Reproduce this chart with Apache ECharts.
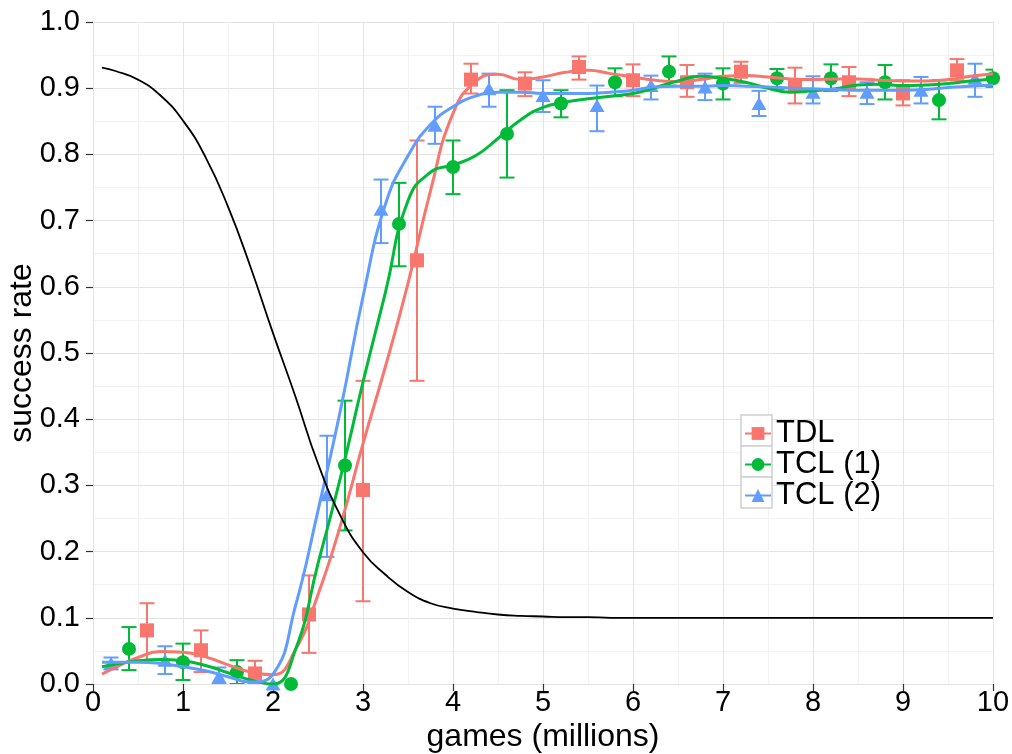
<!DOCTYPE html>
<html>
<head>
<meta charset="utf-8">
<title>success rate vs games</title>
<script src="https://cdn.jsdelivr.net/npm/echarts@6/dist/echarts.min.js"></script>
<style>
  html, body { margin: 0; padding: 0; background: #fff; }
  #chart { width: 1012px; height: 754px; }
</style>
</head>
<body>
<div id="chart"></div>
<script>
// ---- series names ----
const seriesNames = ['TDL', 'TCL (1)', 'TCL (2)'];
const seriesColors = ['#F8766D', '#00BA38', '#619CFF'];

// ---- TDL: measured points with error bars ----
const tdlX  = [0.6, 1.2, 1.8, 2.4, 3.0, 3.6, 4.2, 4.8, 5.4, 6.0, 6.6, 7.2, 7.8, 8.4, 9.0, 9.6];
const tdlY  = [0.081, 0.051, 0.016, 0.105, 0.293, 0.640, 0.913, 0.907, 0.932, 0.912, 0.909, 0.925, 0.904, 0.909, 0.892, 0.927];
const tdlLo = [0.036, 0.018, 0.000, 0.047, 0.125, 0.458, 0.892, 0.888, 0.913, 0.888, 0.887, 0.908, 0.877, 0.888, 0.874, 0.912];
const tdlHi = [0.122, 0.081, 0.035, 0.164, 0.458, 0.821, 0.937, 0.924, 0.948, 0.936, 0.935, 0.940, 0.931, 0.932, 0.912, 0.944];

// ---- TCL (1) ----
const tcl1X  = [0.4, 1.0, 1.6, 2.2, 2.8, 3.4, 4.0, 4.6, 5.2, 5.8, 6.4, 7.0, 7.6, 8.2, 8.8, 9.4, 10.0];
const tcl1Y  = [0.053, 0.033, 0.018, 0.000, 0.330, 0.695, 0.781, 0.831, 0.877, 0.909, 0.925, 0.907, 0.915, 0.915, 0.909, 0.882, 0.915];
const tcl1Lo = [0.021, 0.006, 0.000, 0.000, 0.232, 0.631, 0.740, 0.765, 0.856, 0.888, 0.904, 0.883, 0.899, 0.896, 0.883, 0.853, 0.902];
const tcl1Hi = [0.086, 0.061, 0.036, 0.000, 0.428, 0.757, 0.821, 0.897, 0.897, 0.930, 0.948, 0.930, 0.929, 0.936, 0.935, 0.912, 0.928];

// ---- TCL (2) ----
const tcl2X  = [0.2, 0.8, 1.4, 2.0, 2.6, 3.2, 3.8, 4.4, 5.0, 5.6, 6.2, 6.8, 7.4, 8.0, 8.6, 9.2, 9.8];
const tcl2Y  = [0.031, 0.036, 0.011, 0.000, 0.286, 0.717, 0.844, 0.899, 0.889, 0.874, 0.904, 0.902, 0.877, 0.894, 0.894, 0.897, 0.915];
const tcl2Lo = [0.022, 0.015, 0.000, 0.000, 0.192, 0.666, 0.816, 0.872, 0.864, 0.835, 0.883, 0.882, 0.858, 0.877, 0.876, 0.877, 0.887];
const tcl2Hi = [0.040, 0.057, 0.025, 0.000, 0.375, 0.762, 0.872, 0.922, 0.912, 0.904, 0.919, 0.922, 0.896, 0.918, 0.909, 0.917, 0.937];

// ---- smoothed trend curves, sampled on a common grid ----
const curveX = [0.10, 0.25, 0.50, 0.75, 1.00, 1.25, 1.50, 1.75, 2.00, 2.25, 2.50, 2.75, 3.00, 3.25, 3.50, 3.75,
                4.00, 4.25, 4.50, 4.75, 5.00, 5.25, 5.50, 5.75, 6.00, 6.25, 6.50, 6.75, 7.00, 7.25, 7.50, 7.75,
                8.00, 8.25, 8.50, 8.75, 9.00, 9.25, 9.50, 9.75, 10.0];
const tdlCurve  = [0.015, 0.025, 0.040, 0.049, 0.048, 0.041, 0.029, 0.018, 0.014, 0.052, 0.135, 0.240, 0.363, 0.480, 0.605, 0.745,
                   0.862, 0.910, 0.921, 0.913, 0.917, 0.924, 0.927, 0.922, 0.917, 0.912, 0.910, 0.913, 0.918, 0.919, 0.917, 0.914,
                   0.913, 0.914, 0.914, 0.912, 0.911, 0.911, 0.913, 0.918, 0.922];
const tcl1Curve = [0.026, 0.030, 0.035, 0.037, 0.035, 0.028, 0.017, 0.006, 0.000, 0.052, 0.182, 0.312, 0.456, 0.592, 0.730, 0.773,
                   0.784, 0.798, 0.824, 0.852, 0.871, 0.879, 0.884, 0.888, 0.892, 0.901, 0.911, 0.918, 0.915, 0.909, 0.900, 0.894,
                   0.896, 0.899, 0.905, 0.906, 0.904, 0.905, 0.907, 0.911, 0.914];
const tcl2Curve = [0.033, 0.033, 0.033, 0.031, 0.026, 0.020, 0.011, 0.003, 0.015, 0.118, 0.262, 0.414, 0.585, 0.725, 0.798, 0.845,
                   0.872, 0.888, 0.894, 0.894, 0.892, 0.892, 0.892, 0.894, 0.897, 0.902, 0.903, 0.903, 0.904, 0.903, 0.902, 0.900,
                   0.899, 0.898, 0.897, 0.897, 0.897, 0.898, 0.901, 0.903, 0.905];

// ---- exploration schedule (black curve) ----
const scheduleY = [0.931, 0.926, 0.913, 0.889, 0.851, 0.796, 0.721, 0.630, 0.530, 0.434, 0.333, 0.254, 0.199, 0.165, 0.139, 0.122,
                   0.114, 0.109, 0.105, 0.103, 0.102, 0.101, 0.101, 0.100, 0.100, 0.100, 0.100, 0.100, 0.100, 0.100, 0.100, 0.100,
                   0.100, 0.100, 0.100, 0.100, 0.100, 0.100, 0.100, 0.100, 0.100];

// ---- axis ticks ----
const xTicks = [0, 1, 2, 3, 4, 5, 6, 7, 8, 9, 10];
const yTicks = [0.0, 0.1, 0.2, 0.3, 0.4, 0.5, 0.6, 0.7, 0.8, 0.9, 1.0];

const FONT = '"Liberation Sans", Arial, Helvetica, sans-serif';

const zip = (xs, ys) => xs.map((x, i) => [x, ys[i]]);
const zip3 = (xs, lo, hi) => xs.map((x, i) => [x, lo[i], hi[i]]);

const groups = [
  { x: tdlX,  y: tdlY,  lo: tdlLo,  hi: tdlHi,  curve: tdlCurve,  symbol: 'rect',     size: 14 },
  { x: tcl1X, y: tcl1Y, lo: tcl1Lo, hi: tcl1Hi, curve: tcl1Curve, symbol: 'circle',   size: 14 },
  { x: tcl2X, y: tcl2Y, lo: tcl2Lo, hi: tcl2Hi, curve: tcl2Curve, symbol: 'triangle', size: [15, 13] }
];

// vertical error bar with caps
function renderErrorBar(params, api) {
  const x = api.value(0), lo = api.value(1), hi = api.value(2);
  if (hi <= lo) return null;
  const pLo = api.coord([x, lo]);
  const pHi = api.coord([x, hi]);
  const half = 7.5;
  const style = { stroke: api.visual('color'), lineWidth: 2 };
  return {
    type: 'group',
    children: [
      { type: 'line', shape: { x1: pLo[0], y1: pLo[1], x2: pHi[0], y2: pHi[1] }, style },
      { type: 'line', shape: { x1: pLo[0] - half, y1: pLo[1], x2: pLo[0] + half, y2: pLo[1] }, style },
      { type: 'line', shape: { x1: pHi[0] - half, y1: pHi[1], x2: pHi[0] + half, y2: pHi[1] }, style }
    ]
  };
}

const series = [];
// trend curves first so the legend takes its icons from them
groups.forEach((g, i) => {
  series.push({
    name: seriesNames[i], type: 'line', smooth: 0.5,
    data: zip(curveX, g.curve),
    symbol: g.symbol, showSymbol: false, symbolSize: g.size,
    lineStyle: { color: seriesColors[i], width: 3 },
    itemStyle: { color: seriesColors[i] },
    z: 4, silent: true
  });
});
groups.forEach((g, i) => {
  series.push({
    name: seriesNames[i], type: 'custom',
    data: zip3(g.x, g.lo, g.hi),
    renderItem: renderErrorBar,
    itemStyle: { color: seriesColors[i] },
    clip: true, z: 2, silent: true
  });
  series.push({
    name: seriesNames[i], type: 'scatter',
    data: zip(g.x, g.y),
    symbol: g.symbol, symbolSize: g.size,
    itemStyle: { color: seriesColors[i], opacity: 1 },
    z: 3, silent: true
  });
});
series.push({
  name: 'schedule', type: 'line', smooth: 0.5,
  data: zip(curveX, scheduleY),
  showSymbol: false, symbol: 'none',
  lineStyle: { color: '#000', width: 1.8 },
  z: 5, silent: true
});

const chart = echarts.init(document.getElementById('chart'), null, { renderer: 'canvas' });
chart.setOption({
  animation: false,
  backgroundColor: '#fff',
  grid: { left: 93, right: 19, top: 22, bottom: 70, containLabel: false, outerBoundsMode: 'none' },
  xAxis: {
    type: 'value', min: xTicks[0], max: xTicks[xTicks.length - 1], interval: 1,
    name: 'games (millions)', nameLocation: 'middle', nameGap: 37, nameMoveOverlap: false,
    nameTextStyle: { fontFamily: FONT, fontSize: 32, color: '#000' },
    axisLine: { show: false },
    axisTick: { show: true, length: 7, lineStyle: { color: '#333', width: 1.2 } },
    axisLabel: { fontFamily: FONT, fontSize: 29, color: '#000', margin: 4,
      formatter: v => xTicks.includes(v) ? String(v) : '' },
    splitLine: { show: true, lineStyle: { color: '#e3e3e3', width: 1 } },
    minorTick: { show: false, splitNumber: 2 },
    minorSplitLine: { show: true, lineStyle: { color: '#f2f2f2', width: 1 } }
  },
  yAxis: {
    type: 'value', min: yTicks[0], max: yTicks[yTicks.length - 1], interval: 0.1,
    name: 'success rate', nameLocation: 'middle', nameGap: 55, nameMoveOverlap: false,
    nameTextStyle: { fontFamily: FONT, fontSize: 32, color: '#000' },
    axisLine: { show: false },
    axisTick: { show: true, length: 7, lineStyle: { color: '#333', width: 1.2 } },
    axisLabel: { fontFamily: FONT, fontSize: 29, color: '#000', margin: 13,
      formatter: v => v.toFixed(1) },
    splitLine: { show: true, lineStyle: { color: '#e3e3e3', width: 1 } },
    minorTick: { show: false, splitNumber: 2 },
    minorSplitLine: { show: true, lineStyle: { color: '#f2f2f2', width: 1 } }
  },
  legend: {
    data: seriesNames,
    orient: 'vertical', left: 744, top: 418, padding: 0,
    itemWidth: 26, itemHeight: 16, itemGap: 0,
    textStyle: { fontFamily: FONT, fontSize: 31, color: '#000', lineHeight: 31, padding: [0, 0, 0, 0] },
    selectedMode: false
  },
  graphic: [
    { type: 'rect', shape: { x: 736, y: 410, width: 152, height: 104 }, style: { fill: '#fff' }, z: 0, silent: true },
    { type: 'rect', shape: { x: 741, y: 415, width: 31, height: 31 }, style: { fill: '#fff', stroke: '#d0d0d0', lineWidth: 1.5 }, z: 1, silent: true },
    { type: 'rect', shape: { x: 741, y: 446, width: 31, height: 31 }, style: { fill: '#fff', stroke: '#d0d0d0', lineWidth: 1.5 }, z: 1, silent: true },
    { type: 'rect', shape: { x: 741, y: 477, width: 31, height: 31 }, style: { fill: '#fff', stroke: '#d0d0d0', lineWidth: 1.5 }, z: 1, silent: true }
  ],
  series
});
</script>
</body>
</html>
